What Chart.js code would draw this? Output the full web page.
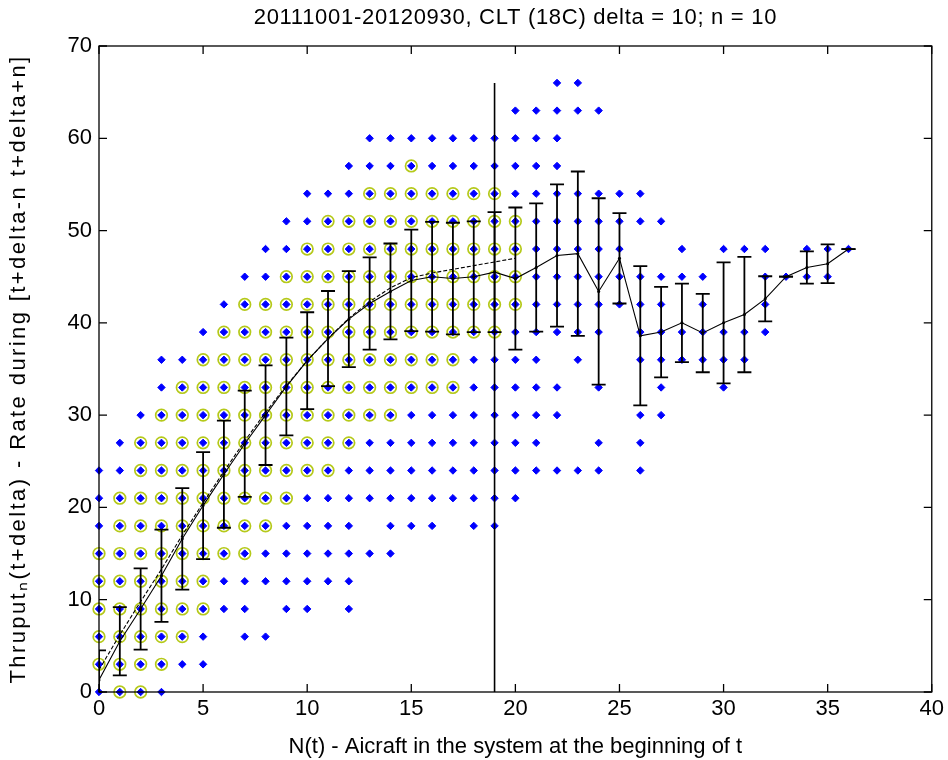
<!DOCTYPE html>
<html><head><meta charset="utf-8">
<script src="https://cdn.jsdelivr.net/npm/chart.js@4.4.1/dist/chart.umd.min.js"></script>
<style>html,body{margin:0;padding:0;background:#fff;}canvas{display:block;}</style>
</head><body>
<canvas id="c" width="948" height="760"></canvas>
<script>
const chartTitle = '20111001-20120930, CLT (18C) delta = 10; n = 10';
const xAxisTitle = 'N(t) - Aicraft in the system at the beginning of t';
const yAxisTitle = 'Thruput\u2099(t+delta) - Rate during [t+delta-n t+delta+n]';
const xTicks = [0,5,10,15,20,25,30,35,40];
const yTicks = [0,10,20,30,40,50,60,70];

const aircraftN = [0,1,2,3,4,5,6,7,8,9,10,11,12,13,14,15,16,17,18,19,20,21,22,23,24,25,26,27,28,29,30,31,32,33,34,35,36];

// all observed throughput values per N
const observedRates = [
  [0,3,6,9,12,15,18,21,24],
  [0,3,6,9,12,15,18,21,24,27],
  [0,3,6,9,12,15,18,21,24,27,30],
  [0,3,6,9,12,15,18,21,24,27,30,33,36],
  [3,6,9,12,15,18,21,24,27,30,33,36],
  [3,6,9,12,15,18,21,24,27,30,33,36,39],
  [9,12,15,18,21,24,27,30,33,36,39,42],
  [6,9,12,15,18,21,24,27,30,33,36,39,42,45],
  [6,12,15,18,21,24,27,30,33,36,39,42,45,48],
  [9,12,15,18,21,24,27,30,33,36,39,42,45,48,51],
  [9,12,15,18,21,24,27,30,33,36,39,42,45,48,51,54],
  [12,15,18,21,24,27,30,33,36,39,42,45,48,51,54],
  [9,12,15,18,21,24,27,30,33,36,39,42,45,48,51,54,57],
  [15,21,24,27,30,33,36,39,42,45,48,51,54,57,60],
  [15,18,21,24,27,30,33,36,39,42,45,48,51,54,57,60],
  [18,21,24,27,30,33,36,39,42,45,48,51,54,57,60],
  [18,21,24,27,30,33,36,39,42,45,48,51,54,57,60],
  [21,24,27,30,33,36,39,42,45,48,51,54,57,60],
  [18,21,24,27,30,33,36,39,42,45,48,51,54,57,60],
  [18,21,24,27,30,33,36,39,42,45,48,51,54,57,60],
  [21,24,27,30,33,36,39,42,45,48,51,54,57,60,63],
  [24,27,30,33,36,39,42,45,48,51,54,57,60,63],
  [24,30,33,39,42,45,48,51,54,57,60,63,66],
  [24,36,39,42,45,48,51,54,63,66],
  [24,27,33,39,42,45,48,51,54,63],
  [42,45,48,51,54],
  [24,27,30,36,39,42,45,51,54],
  [30,33,36,39,42,45,51],
  [36,39,45,48],
  [36,39,42,45],
  [33,36,39,48],
  [36,39,48],
  [39,42,45,48],
  [45],
  [45,48],
  [45,48],
  [48]
];

// highlighted (circled) values per N, N = 0..20
const frequentRates = [
  [3,6,9,12,15],
  [0,3,6,9,12,15,18,21],
  [0,3,6,9,12,15,18,21,24,27],
  [3,6,9,12,15,18,21,24,27,30],
  [6,9,12,15,18,21,24,27,30,33],
  [9,12,15,18,21,24,27,30,33,36],
  [15,18,21,24,27,30,33,36,39],
  [15,18,21,24,27,30,33,36,39,42],
  [18,21,24,27,30,33,36,39,42],
  [21,24,27,30,33,36,39,42,45],
  [24,27,30,33,36,39,42,45,48],
  [24,27,30,33,36,39,42,45,48,51],
  [27,30,33,36,39,42,45,48,51],
  [30,33,36,39,42,45,48,51,54],
  [30,33,36,39,42,45,48,51,54],
  [33,36,39,42,45,48,51,54,57],
  [33,36,39,42,45,48,51,54],
  [33,36,39,42,45,48,51,54],
  [39,42,45,48,51,54],
  [39,42,45,48,51,54],
  [42,45,48,51]
];

const meanRate = [1.3,5.5,9.0,12.6,16.6,20.2,23.6,26.9,30.0,33.1,35.9,38.3,40.4,42.1,43.4,44.6,45.0,44.8,45.0,45.5,44.8,46.0,47.3,47.5,43.4,47.0,38.6,39.0,40.0,38.9,40.0,40.9,42.6,45.0,46.0,46.4,48.0];
const stdRate = [3.2,3.7,4.4,5.0,5.5,5.8,5.8,5.75,5.4,5.3,5.25,5.15,5.2,5.0,5.2,5.5,5.95,6.05,6.0,6.5,7.7,6.95,7.7,8.9,10.1,4.9,7.55,4.9,4.25,4.25,6.55,6.25,2.45,0,1.75,2.1,0];
const smoothRate = [2.4,6.2,9.8,13.3,17.0,20.5,23.9,27.2,30.3,33.2,35.9,38.3,40.5,42.3,43.8,44.9,45.4,45.8,46.2,46.6,47.0];
const markerN = 19;
const markerTop = 66;

const FONT = "'Liberation Sans', Arial, Helvetica, sans-serif";

const bluePts = [];
observedRates.forEach((vals, i) => vals.forEach(v => bluePts.push({x: aircraftN[i], y: v})));
const circlePts = [];
frequentRates.forEach((vals, i) => vals.forEach(v => circlePts.push({x: aircraftN[i], y: v})));
const errPts = [];
meanRate.forEach((m, i) => {
  errPts.push({x: aircraftN[i], y: m - stdRate[i]});
  errPts.push({x: aircraftN[i], y: m + stdRate[i]});
  errPts.push({x: aircraftN[i], y: null});
});
const meanPts = meanRate.map((m, i) => ({x: aircraftN[i], y: m}));
const smoothPts = smoothRate.map((m, i) => ({x: aircraftN[i], y: m}));
const markerPts = [{x: markerN, y: 0}, {x: markerN, y: markerTop}];

const framePlugin = {
  id: 'frame',
  afterDatasetsDraw(chart) {
    const {ctx, chartArea: a, scales: {x, y}} = chart;
    ctx.save();
    ctx.strokeStyle = '#000';
    ctx.lineWidth = 1.3;
    ctx.strokeRect(a.left, a.top, a.right - a.left, a.bottom - a.top);
    const L = 8;
    ctx.beginPath();
    xTicks.forEach(v => {
      const px = x.getPixelForValue(v);
      ctx.moveTo(px, a.bottom); ctx.lineTo(px, a.bottom - L);
      ctx.moveTo(px, a.top); ctx.lineTo(px, a.top + L);
    });
    yTicks.forEach(v => {
      const py = y.getPixelForValue(v);
      ctx.moveTo(a.left, py); ctx.lineTo(a.left + L, py);
      ctx.moveTo(a.right, py); ctx.lineTo(a.right - L, py);
    });
    ctx.stroke();
    ctx.fillStyle = '#000';
    ctx.textAlign = 'center';
    ctx.textBaseline = 'middle';
    ctx.font = '22px ' + FONT;
    try { ctx.letterSpacing = '0.7px'; } catch (e) {}
    ctx.fillText(chartTitle, (a.left + a.right) / 2, 18);
    ctx.save();
    ctx.translate(19, (a.top + a.bottom) / 2);
    ctx.rotate(-Math.PI / 2);
    try { ctx.letterSpacing = '2.4px'; } catch (e) {}
    ctx.font = '22px ' + FONT;
    ctx.fillText(yAxisTitle, 0, 0);
    ctx.restore();
    ctx.restore();
  }
};

new Chart(document.getElementById('c'), {
  type: 'scatter',
  data: {
    datasets: [
      {
        label: 'std', data: errPts, showLine: true, spanGaps: false,
        borderColor: '#000', borderWidth: 1.8, pointStyle: 'line', pointRadius: 7,
        pointBorderColor: '#000', pointBorderWidth: 1.8, order: 0, clip: 0
      },
      {
        label: 'marker', data: markerPts, showLine: true, borderColor: '#000',
        borderWidth: 1.6, pointRadius: 0, order: 1, clip: 0
      },
      {
        label: 'mean', data: meanPts, showLine: true, borderColor: '#000',
        borderWidth: 1.1, pointRadius: 1.5, pointBackgroundColor: '#000',
        pointBorderWidth: 0, order: 2, clip: 0
      },
      {
        label: 'smooth', data: smoothPts, showLine: true, borderColor: '#000',
        borderWidth: 1.1, borderDash: [4, 2], pointRadius: 0, order: 2, clip: 0
      },
      {
        label: 'freq', data: circlePts, pointStyle: 'circle', pointRadius: 5.8,
        pointBackgroundColor: 'rgba(0,0,0,0)', pointBorderColor: '#b5c91a',
        pointBorderWidth: 1.7, order: 3, clip: false
      },
      {
        label: 'obs', data: bluePts, pointStyle: 'rectRot', pointRadius: 3.7,
        pointBackgroundColor: '#0000ff', pointBorderColor: '#0000ff',
        pointBorderWidth: 1, order: 4, clip: false
      }
    ]
  },
  options: {
    responsive: false, animation: false, devicePixelRatio: 1,
    layout: {padding: {top: 46, right: 15, left: 0, bottom: 0}},
    plugins: {legend: {display: false}, tooltip: {enabled: false}, title: {display: false}},
    scales: {
      x: {
        type: 'linear', min: 0, max: 40,
        afterBuildTicks(s) { s.ticks = xTicks.map(v => ({value: v})); },
        afterFit(s) { s.height = 68; },
        grid: {display: false, drawTicks: false}, border: {display: false},
        ticks: {padding: 4, color: '#000', font: {size: 22, family: FONT}},
        title: {display: true, text: xAxisTitle, color: '#000', font: {size: 22, family: FONT}, padding: {top: 0, bottom: 0}}
      },
      y: {
        type: 'linear', min: 0, max: 70,
        afterBuildTicks(s) { s.ticks = yTicks.map(v => ({value: v})); },
        afterFit(s) { s.width = 99; },
        grid: {display: false, drawTicks: false}, border: {display: false},
        ticks: {padding: 7, color: '#000', font: {size: 22, family: FONT}},
        title: {display: false}
      }
    }
  },
  plugins: [framePlugin]
});
</script>
</body></html>
